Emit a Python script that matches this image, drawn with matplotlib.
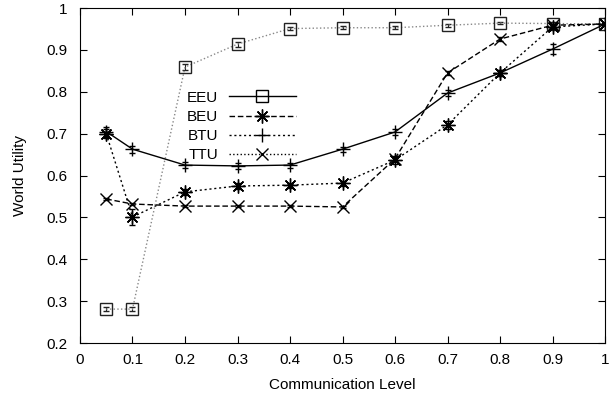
import matplotlib
matplotlib.use('Agg')
import matplotlib.pyplot as plt
from matplotlib.lines import Line2D

plt.rcParams['font.family'] = ['Liberation Sans', 'DejaVu Sans']

comm = [0.05, 0.1, 0.2, 0.3, 0.4, 0.5, 0.6, 0.7, 0.8, 0.9, 1.0]

eeu = [0.281, 0.281, 0.859, 0.914, 0.951, 0.953, 0.953, 0.959, 0.964, 0.963, 0.962]
eeu_err = [0.005, 0.005, 0.008, 0.006, 0.004, 0.004, 0.004, 0.004, 0.003, 0.003, 0.003]

beu = [0.700, 0.501, 0.561, 0.575, 0.577, 0.582, 0.637, 0.721, 0.845, 0.955, 0.962]
beu_err = [0.010, 0.020, 0.008, 0.006, 0.006, 0.006, 0.010, 0.010, 0.008, 0.006, 0.003]

btu = [0.705, 0.663, 0.625, 0.623, 0.625, 0.663, 0.704, 0.797, 0.845, 0.902, 0.962]
btu_err = [0.012, 0.008, 0.008, 0.008, 0.006, 0.006, 0.008, 0.008, 0.008, 0.012, 0.003]

ttu = [0.544, 0.532, 0.527, 0.527, 0.527, 0.525, 0.640, 0.845, 0.926, 0.959, 0.962]
ttu_err = [0.003, 0.003, 0.003, 0.003, 0.003, 0.003, 0.005, 0.004, 0.004, 0.003, 0.003]

fig = plt.figure(figsize=(6.13, 3.95), dpi=100)
ax = fig.add_axes([0.1305, 0.1316, 0.8565, 0.848])

ax.errorbar(comm, eeu, yerr=eeu_err, color='#888888', linestyle=':', linewidth=1,
            marker='s', markersize=8, markerfacecolor='none', markeredgecolor='#222222',
            ecolor='#222222', elinewidth=0.8, capsize=2)
ax.errorbar(comm, beu, yerr=beu_err, color='black', linestyle=(0, (1.5, 2)), linewidth=1,
            marker=(8, 2, 0), markersize=10, markeredgewidth=1,
            ecolor='black', elinewidth=0.8, capsize=2)
ax.errorbar(comm, btu, yerr=btu_err, color='black', linestyle='-', linewidth=1,
            marker='+', markersize=10, markeredgewidth=1,
            ecolor='black', elinewidth=0.8, capsize=2)
ax.errorbar(comm, ttu, yerr=ttu_err, color='black', linestyle=(0, (4, 2)), linewidth=1,
            marker='x', markersize=9, markeredgewidth=1,
            ecolor='black', elinewidth=0.8, capsize=2)

# legend samples as drawn in the key
handles = [
    Line2D([], [], color='black', linestyle='-', linewidth=1, marker='s', markersize=8,
           markerfacecolor='none'),
    Line2D([], [], color='black', linestyle=(0, (4, 2)), linewidth=1, marker=(8, 2, 0),
           markersize=10),
    Line2D([], [], color='black', linestyle=(0, (1.5, 2)), linewidth=1, marker='+',
           markersize=10),
    Line2D([], [], color='black', linestyle=':', linewidth=1, marker='x', markersize=9),
]
ax.legend(handles, ['EEU', 'BEU', 'BTU', 'TTU'], loc='upper left',
          bbox_to_anchor=(0.183, 0.785), frameon=False, markerfirst=False,
          fontsize=11, handlelength=4.4, labelspacing=0.34, handletextpad=0.7,
          borderpad=0.2)

ax.set_xlim(0, 1)
ax.set_ylim(0.2, 1)
ax.set_xticks([0, 0.1, 0.2, 0.3, 0.4, 0.5, 0.6, 0.7, 0.8, 0.9, 1])
ax.set_xticklabels(['0', '0.1', '0.2', '0.3', '0.4', '0.5', '0.6', '0.7', '0.8', '0.9', '1'])
ax.set_yticks([0.2, 0.3, 0.4, 0.5, 0.6, 0.7, 0.8, 0.9, 1])
ax.set_yticklabels(['0.2', '0.3', '0.4', '0.5', '0.6', '0.7', '0.8', '0.9', '1'])
ax.tick_params(direction='in', top=True, right=True, length=5, labelsize=11)
ax.tick_params(axis='y', pad=9)
ax.tick_params(axis='x', pad=7)
ax.set_xlabel('Communication Level', fontsize=11, labelpad=8)
ax.set_ylabel('World Utility', fontsize=11, labelpad=14)

plt.savefig('out.png', dpi=100)
